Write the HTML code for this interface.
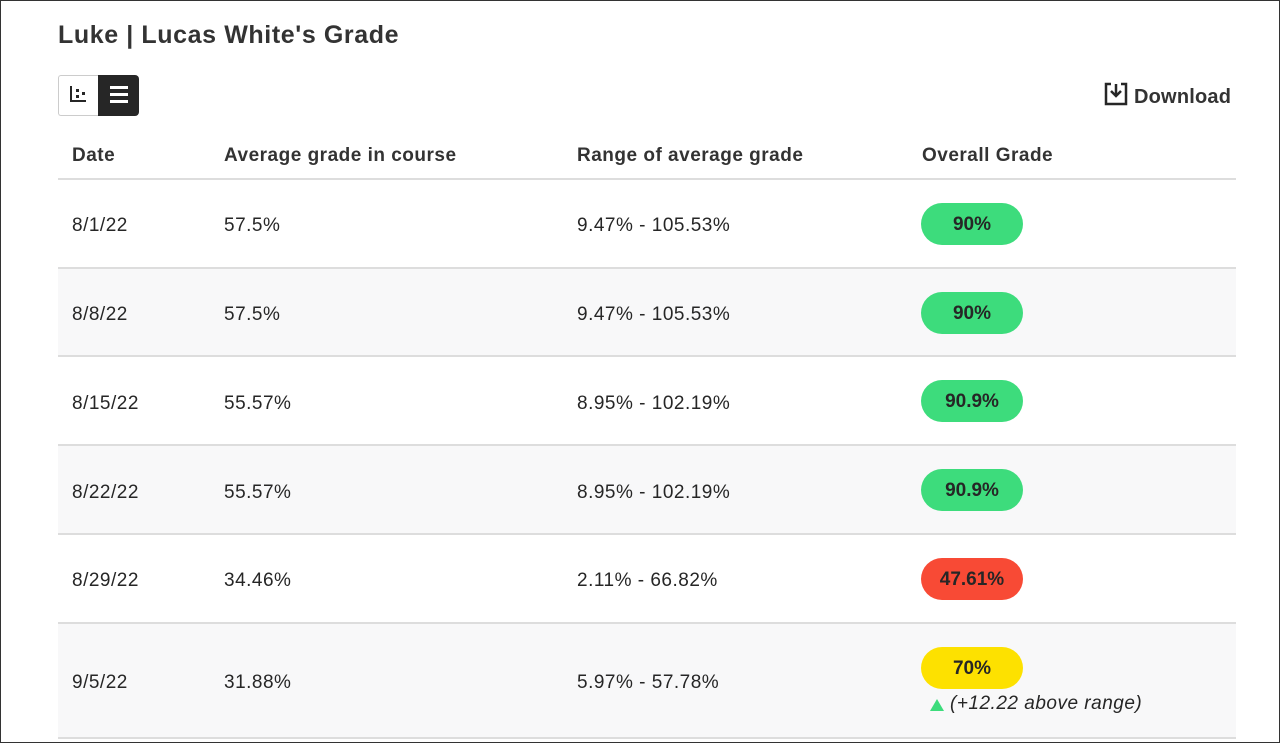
<!DOCTYPE html>
<html><head><style>
html,body{margin:0;padding:0}
body{width:1280px;height:743px;position:relative;overflow:hidden;background:#fff;font-family:"Liberation Sans",sans-serif;color:#262626}
.frame{position:absolute;left:0;top:0;width:1278px;height:741px;border:1px solid #333}
.t{position:absolute;font-size:19px;white-space:nowrap;letter-spacing:0.5px}
.row{position:absolute;left:58px;width:1178px;border-bottom:2px solid #ddd}
.alt{background:#f8f8f9}
.pill{position:absolute;left:921px;width:102px;height:42px;border-radius:21px;text-align:center;line-height:44px;font-size:19px;font-weight:bold;color:#262626}
</style></head><body>
<div class="frame"></div>
<div class="t" style="left:58px;top:21px;font-size:25px;font-weight:bold;color:#333;letter-spacing:0.6px">Luke | Lucas White's Grade</div>
<div style="position:absolute;left:58px;top:75px;width:40px;height:39px;border:1px solid #ccc;border-right:none;border-radius:3px 0 0 3px;background:#fff"></div>
<div style="position:absolute;left:70px;top:86px;width:2px;height:16px;background:#262626"></div>
<div style="position:absolute;left:70px;top:100px;width:16px;height:2px;background:#262626"></div>
<div style="position:absolute;left:76px;top:89px;width:3px;height:3px;background:#262626"></div>
<div style="position:absolute;left:76px;top:95px;width:3px;height:3px;background:#262626"></div>
<div style="position:absolute;left:82px;top:92px;width:3px;height:3px;background:#262626"></div>
<div style="position:absolute;left:98px;top:75px;width:41px;height:41px;background:#262626;border-radius:0 4px 4px 0"></div>
<div style="position:absolute;left:110px;top:86px;width:18px;height:3px;background:#fff;box-shadow:0 7px 0 #fff,0 14px 0 #fff"></div>
<svg style="position:absolute;left:1104px;top:82px" width="24" height="24" viewBox="0 0 24 24"><path d="M7 2H2v20h20V2h-5" fill="none" stroke="#262626" stroke-width="2.5"/><path d="M12 2v11M7 9l5 5 5-5" fill="none" stroke="#262626" stroke-width="2.5"/></svg>
<div class="t" style="left:1134px;top:86px;font-size:20px;font-weight:bold;color:#333;letter-spacing:0.2px">Download</div>
<div class="row" style="top:130px;height:48px"></div>
<div class="t" style="left:72px;top:145px;font-weight:bold;color:#333">Date</div>
<div class="t" style="left:224px;top:145px;font-weight:bold;color:#333">Average grade in course</div>
<div class="t" style="left:577px;top:145px;font-weight:bold;color:#333">Range of average grade</div>
<div class="t" style="left:922px;top:145px;font-weight:bold;color:#333">Overall Grade</div>

<div class="row" style="top:180px;height:87px"></div>
<div class="row alt" style="top:269px;height:86px"></div>
<div class="row" style="top:357px;height:87px"></div>
<div class="row alt" style="top:446px;height:87px"></div>
<div class="row" style="top:535px;height:87px"></div>
<div class="row alt" style="top:624px;height:113px"></div>

<div class="t" style="left:72px;top:215px">8/1/22</div><div class="t" style="left:224px;top:215px">57.5%</div><div class="t" style="left:577px;top:215px">9.47% - 105.53%</div>
<div class="pill" style="top:203px;background:#3ddc7c">90%</div>
<div class="t" style="left:72px;top:304px">8/8/22</div><div class="t" style="left:224px;top:304px">57.5%</div><div class="t" style="left:577px;top:304px">9.47% - 105.53%</div>
<div class="pill" style="top:292px;background:#3ddc7c">90%</div>
<div class="t" style="left:72px;top:393px">8/15/22</div><div class="t" style="left:224px;top:393px">55.57%</div><div class="t" style="left:577px;top:393px">8.95% - 102.19%</div>
<div class="pill" style="top:380px;background:#3ddc7c">90.9%</div>
<div class="t" style="left:72px;top:482px">8/22/22</div><div class="t" style="left:224px;top:482px">55.57%</div><div class="t" style="left:577px;top:482px">8.95% - 102.19%</div>
<div class="pill" style="top:469px;background:#3ddc7c">90.9%</div>
<div class="t" style="left:72px;top:570px">8/29/22</div><div class="t" style="left:224px;top:570px">34.46%</div><div class="t" style="left:577px;top:570px">2.11% - 66.82%</div>
<div class="pill" style="top:558px;background:#f84a35">47.61%</div>
<div class="t" style="left:72px;top:672px">9/5/22</div><div class="t" style="left:224px;top:672px">31.88%</div><div class="t" style="left:577px;top:672px">5.97% - 57.78%</div>
<div class="pill" style="top:647px;background:#fde100">70%</div>
<div style="position:absolute;left:930px;top:699px;width:0;height:0;border-left:7px solid transparent;border-right:7px solid transparent;border-bottom:12px solid #3ddc7c"></div>
<div class="t" style="left:950px;top:693px;font-style:italic">(+12.22 above range)</div>
</body></html>
